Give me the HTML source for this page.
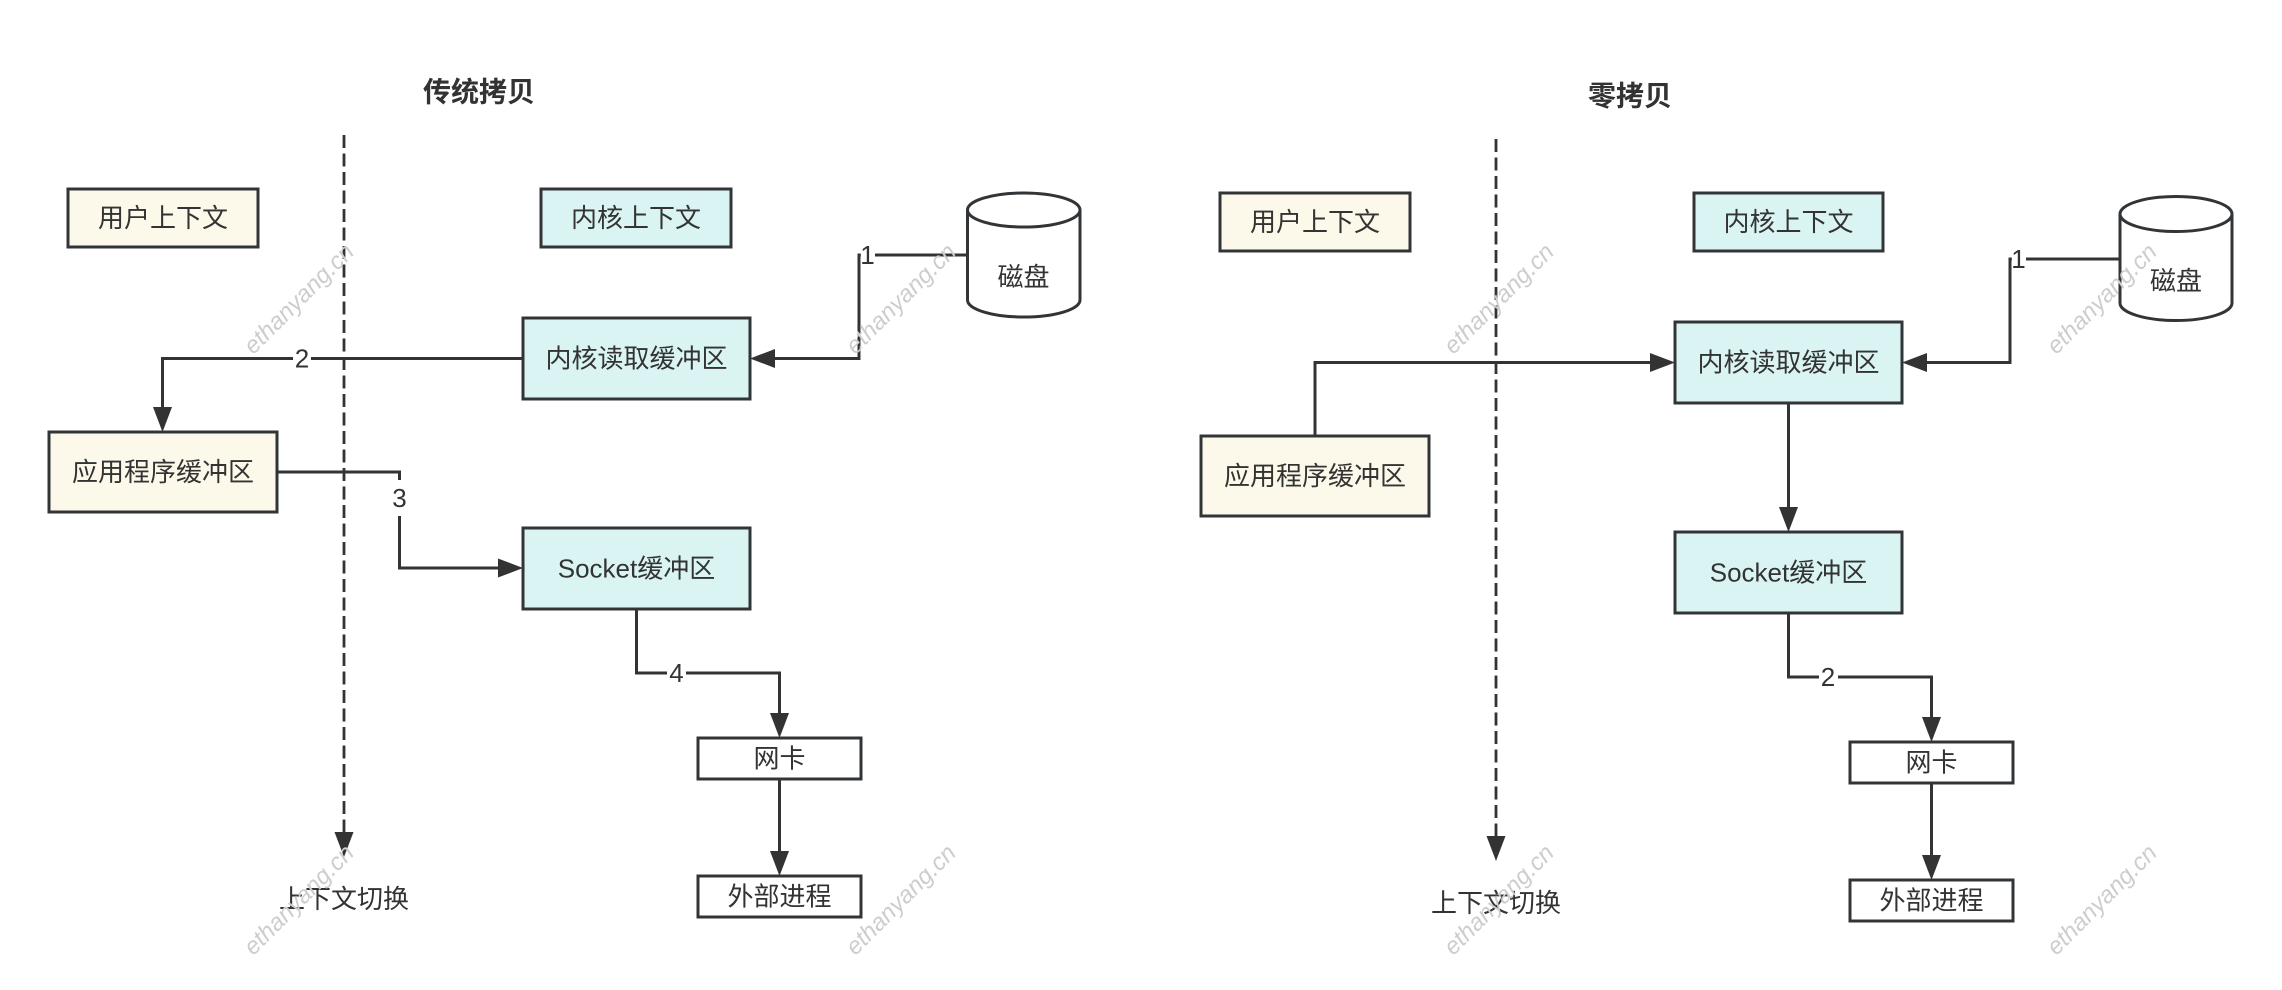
<!DOCTYPE html>
<html>
<head>
<meta charset="utf-8">
<style>
  html, body { margin: 0; padding: 0; background: #ffffff; }
  body { width: 2282px; height: 990px; overflow: hidden; }
  svg { display: block; }
  text { font-family: "Liberation Sans", "Noto Sans CJK SC", sans-serif; fill: #333333; }
  .box { stroke: #323538; stroke-width: 3; }
  .user { fill: #fcf8ea; }
  .kern { fill: #daf4f4; }
  .white { fill: #ffffff; }
  .ln { fill: none; stroke: #333333; stroke-width: 3; }
  .dash { fill: none; stroke: #333333; stroke-width: 2.8; stroke-dasharray: 13 5.5; }
  .t { font-size: 26px; text-anchor: middle; dominant-baseline: central; }
  .title { font-size: 28px; font-weight: bold; text-anchor: middle; dominant-baseline: central; }
  .lbl { font-size: 26px; text-anchor: middle; dominant-baseline: central; }
  .wm { font-size: 24px; font-style: italic; fill: #cdcdcd; text-anchor: middle; dominant-baseline: central; }
  .ah { fill: #333333; }
</style>
</head>
<body>
<svg width="2282" height="990" viewBox="0 0 2282 990" xmlns="http://www.w3.org/2000/svg">

  <!-- ================= LEFT: 传统拷贝 ================= -->
  <text class="title" x="479" y="92">传统拷贝</text>

  <path class="dash" d="M344 135 V834"/>
  <polygon class="ah" points="344,857 334.5,832 353.5,832"/>
  <text class="t" x="344" y="899">上下文切换</text>

  <!-- connectors -->
  <path class="ln" d="M967 255 H859 V358.5 H773"/>
  <polygon class="ah" points="750,358.5 775,349 775,368"/>

  <path class="ln" d="M523 358.5 H162.5 V409"/>
  <polygon class="ah" points="162.5,432 153,407 172,407"/>

  <path class="ln" d="M277 472 H399.5 V568 H500"/>
  <polygon class="ah" points="523,568 498,558.5 498,577.5"/>

  <path class="ln" d="M636.5 609 V673 H779.5 V715"/>
  <polygon class="ah" points="779.5,738 770,713 789,713"/>

  <path class="ln" d="M779.5 779 V853"/>
  <polygon class="ah" points="779.5,876 770,851 789,851"/>

  <!-- connector labels -->
  <rect x="860.8" y="241" width="14.2" height="30" fill="#ffffff"/>
  <text class="lbl" x="867.5" y="255">1</text>
  <rect x="293" y="344" width="18" height="29" fill="#ffffff"/>
  <text class="lbl" x="302" y="358.5">2</text>
  <rect x="389" y="480" width="21" height="36" fill="#ffffff"/>
  <text class="lbl" x="399.5" y="498">3</text>
  <rect x="667" y="659" width="19" height="28" fill="#ffffff"/>
  <text class="lbl" x="676.5" y="673">4</text>

  <!-- boxes -->
  <rect class="box user" x="68" y="189" width="190" height="58"/>
  <text class="t" x="163" y="218">用户上下文</text>

  <rect class="box kern" x="541" y="189" width="190" height="58"/>
  <text class="t" x="636" y="218">内核上下文</text>

  <rect class="box kern" x="523" y="318" width="227" height="81"/>
  <text class="t" x="636.5" y="358.5">内核读取缓冲区</text>

  <rect class="box user" x="49" y="432" width="228" height="80"/>
  <text class="t" x="163" y="472">应用程序缓冲区</text>

  <rect class="box kern" x="523" y="528" width="227" height="81"/>
  <text class="t" x="636.5" y="568.5">Socket缓冲区</text>

  <rect class="box white" x="698" y="738" width="163" height="41"/>
  <text class="t" x="779.5" y="758.5">网卡</text>

  <rect class="box white" x="698" y="876" width="163" height="41"/>
  <text class="t" x="779.5" y="896.5">外部进程</text>

  <!-- cylinder 磁盘 -->
  <path class="box white" d="M967.5 210 A56.25 17 0 0 1 1080 210 V300 A56.25 17 0 0 1 967.5 300 Z"/>
  <path fill="none" stroke="#323538" stroke-width="3" d="M967.5 210 A56.25 17 0 0 0 1080 210"/>
  <text class="t" x="1023.5" y="277">磁盘</text>

  <!-- ================= RIGHT: 零拷贝 ================= -->
  <text class="title" x="1630" y="96">零拷贝</text>

  <path class="dash" d="M1496 139 V838"/>
  <polygon class="ah" points="1496,861 1486.5,836 1505.5,836"/>
  <text class="t" x="1496" y="903">上下文切换</text>

  <!-- connectors -->
  <path class="ln" d="M2120 259 H2010 V362.5 H1925"/>
  <polygon class="ah" points="1902,362.5 1927,353 1927,372"/>

  <path class="ln" d="M1315 436 V362.5 H1652"/>
  <polygon class="ah" points="1675,362.5 1650,353 1650,372"/>

  <path class="ln" d="M1788.5 403 V509"/>
  <polygon class="ah" points="1788.5,532 1779,507 1798,507"/>

  <path class="ln" d="M1788.5 613 V677 H1931.5 V719"/>
  <polygon class="ah" points="1931.5,742 1922,717 1941,717"/>

  <path class="ln" d="M1931.5 783 V857"/>
  <polygon class="ah" points="1931.5,880 1922,855 1941,855"/>

  <!-- connector labels -->
  <rect x="2011.8" y="245" width="14.2" height="30" fill="#ffffff"/>
  <text class="lbl" x="2018.5" y="259">1</text>
  <rect x="1819" y="663" width="19" height="28" fill="#ffffff"/>
  <text class="lbl" x="1828" y="677">2</text>

  <!-- boxes -->
  <rect class="box user" x="1220" y="193" width="190" height="58"/>
  <text class="t" x="1315" y="222">用户上下文</text>

  <rect class="box kern" x="1694" y="193" width="189" height="58"/>
  <text class="t" x="1788.5" y="222">内核上下文</text>

  <rect class="box kern" x="1675" y="322" width="227" height="81"/>
  <text class="t" x="1788.5" y="362.5">内核读取缓冲区</text>

  <rect class="box user" x="1201" y="436" width="228" height="80"/>
  <text class="t" x="1315" y="476">应用程序缓冲区</text>

  <rect class="box kern" x="1675" y="532" width="227" height="81"/>
  <text class="t" x="1788.5" y="572.5">Socket缓冲区</text>

  <rect class="box white" x="1850" y="742" width="163" height="41"/>
  <text class="t" x="1931.5" y="762.5">网卡</text>

  <rect class="box white" x="1850" y="880" width="163" height="41"/>
  <text class="t" x="1931.5" y="900.5">外部进程</text>

  <!-- cylinder 磁盘 -->
  <path class="box white" d="M2120 214 A56 17.5 0 0 1 2232 214 V303 A56 17.5 0 0 1 2120 303 Z"/>
  <path fill="none" stroke="#323538" stroke-width="3" d="M2120 214 A56 17.5 0 0 0 2232 214"/>
  <text class="t" x="2176" y="281">磁盘</text>

  <!-- ================= watermarks ================= -->
  <text class="wm" x="299" y="299" transform="rotate(-45 299 299)">ethanyang.cn</text>
  <text class="wm" x="901" y="299" transform="rotate(-45 901 299)">ethanyang.cn</text>
  <text class="wm" x="1499" y="299" transform="rotate(-45 1499 299)">ethanyang.cn</text>
  <text class="wm" x="2102" y="299" transform="rotate(-45 2102 299)">ethanyang.cn</text>
  <text class="wm" x="299" y="900" transform="rotate(-45 299 900)">ethanyang.cn</text>
  <text class="wm" x="901" y="900" transform="rotate(-45 901 900)">ethanyang.cn</text>
  <text class="wm" x="1499" y="900" transform="rotate(-45 1499 900)">ethanyang.cn</text>
  <text class="wm" x="2102" y="900" transform="rotate(-45 2102 900)">ethanyang.cn</text>
</svg>
</body>
</html>
